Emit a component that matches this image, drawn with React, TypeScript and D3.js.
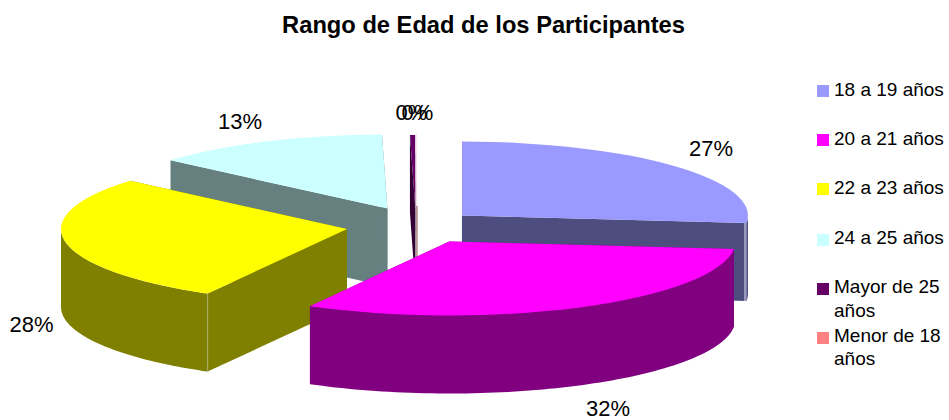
import React from "react";
import * as d3 from "d3";

const categories = ["18 a 19 años", "20 a 21 años", "22 a 23 años", "24 a 25 años", "Mayor de 25 años", "Menor de 18 años"];
const shares = [26.6, 31.5, 28.2, 13.4, 0.29, 0.01];
const shownLabels = ["27%", "32%", "28%", "13%", "0%", "0%"];
const topColors = ["#9999FF", "#FF00FF", "#FFFF00", "#CCFFFF", "#660066", "#FF8080"];
const wallColors = ["#4D4D80", "#800080", "#808000", "#668080", "#330033", "#804040"];
const explode = [66, 72, 66, 66, 66, 66];
const nudgeX = [0, 3, -1, 2.5, 3, 4];
const nudgeY = [1, -1, 0, -2, 0, -3];
const paintOrder = [4, 5, 3, 0, 2, 1];

const W = 949, H = 420;
const cx = 413, cy = 226, rx = 286, ry = 74, depth = 78;
const labelPos: [number, number][] = [[711, 156], [608, 416], [31.5, 332], [240, 129], [411.5, 120], [417.5, 120]];
const legendRows: { y: number; lines: [string, number][] }[] = [
  { y: 85, lines: [["18 a 19 años", 96]] },
  { y: 134, lines: [["20 a 21 años", 145]] },
  { y: 183, lines: [["22 a 23 años", 194]] },
  { y: 234, lines: [["24 a 25 años", 244]] },
  { y: 283, lines: [["Mayor de 25", 293], ["años", 317]] },
  { y: 332, lines: [["Menor de 18", 342], ["años", 365]] },
];

const FONT = "'Liberation Sans', Arial, sans-serif";

export default function App() {
  const pie = d3.pie<number>().sort(null).value((d) => d);
  const arcs = pie(shares);
  const top = d3.arc<d3.PieArcDatum<number>>().innerRadius(0).outerRadius(rx);
  const pt = (a: number, ox: number, oy: number): [number, number] => [
    ox + rx * Math.sin(a),
    oy - ry * Math.cos(a),
  ];
  const line = d3.line();

  return (
    <svg
      width={W}
      height={H}
      viewBox={`0 0 ${W} ${H}`}
      style={{ position: "absolute", left: 0, top: 0, background: "#fff", fontFamily: FONT }}
    >
      <text x={483.5} y={33} textAnchor="middle" fontSize={23.7} fontWeight="bold" fill="#000">
        Rango de Edad de los Participantes
      </text>
      {paintOrder.map((i) => {
        const a = arcs[i];
        const mid = (a.startAngle + a.endAngle) / 2;
        const ox = cx + explode[i] * Math.sin(mid) + nudgeX[i];
        const oy = cy - explode[i] * (ry / rx) * Math.cos(mid) + nudgeY[i];
        const radial = (ang: number) => {
          const p = pt(ang, ox, oy);
          return line([[ox, oy], p, [p[0], p[1] + depth], [ox, oy + depth]]) + "Z";
        };
        const lo = Math.max(a.startAngle, Math.PI / 2);
        const hi = Math.min(a.endAngle, (3 * Math.PI) / 2);
        let outer: string | null = null;
        if (hi > lo) {
          const angs = d3.range(0, 81).map((k) => lo + ((hi - lo) * k) / 80);
          const upper = angs.map((t) => pt(t, ox, oy));
          const lower = upper.map(([x, y]) => [x, y + depth] as [number, number]).reverse();
          outer = line([...upper, ...lower]) + "Z";
        }
        const pS = pt(a.startAngle, ox, oy);
        const pE = pt(a.endAngle, ox, oy);
        return (
          <g key={categories[i]}>
            <path d={radial(a.startAngle)} fill={wallColors[i]} />
            <path d={radial(a.endAngle)} fill={wallColors[i]} />
            {outer && <path d={outer} fill={wallColors[i]} />}
            {i === 5 && (
              <line x1={ox} x2={ox} y1={oy} y2={oy + depth} stroke={wallColors[i]} strokeWidth={0.9} />
            )}
            {i === 2 && (
              <line x1={pS[0]} x2={pS[0]} y1={pS[1]} y2={pS[1] + depth} stroke="#B3B380" strokeWidth={0.8} />
            )}
            {i === 0 && (
              <line x1={pE[0] - 1.5} x2={pE[0] - 1.5} y1={pE[1]} y2={pE[1] + depth} stroke="#E6E6F5" strokeWidth={1} />
            )}
            <path
              d={top(a) || ""}
              fill={topColors[i]}
              transform={`translate(${ox},${oy}) scale(1,${ry / rx})`}
            />
          </g>
        );
      })}
      {shownLabels.map((t, i) => (
        <text key={i} x={labelPos[i][0]} y={labelPos[i][1]} textAnchor="middle" fontSize={22} fill="#000">
          {t}
        </text>
      ))}
      {legendRows.map((r, i) => (
        <g key={categories[i]}>
          <rect x={817} y={r.y} width={12} height={12} fill={topColors[i]} />
          {r.lines.map(([t, y]) => (
            <text key={y} x={834} y={y} fontSize={19} fill="#000">
              {t}
            </text>
          ))}
        </g>
      ))}
    </svg>
  );
}
